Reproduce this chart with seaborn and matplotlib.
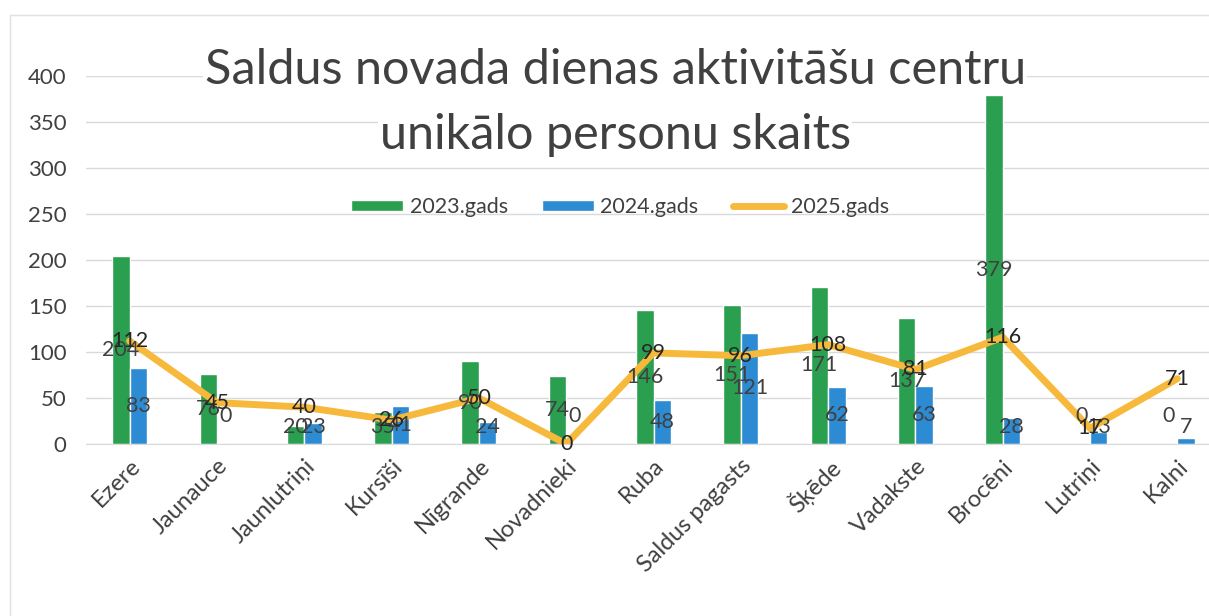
import numpy as np
import pandas as pd
import seaborn as sns
from matplotlib import pyplot as plt
from matplotlib.patches import Patch, Rectangle
from matplotlib.lines import Line2D

places = ["Ezere", "Jaunauce", "Jaunlutriņi", "Kursīši", "Nīgrande", "Novadnieki",
          "Ruba", "Saldus pagasts", "Šķēde", "Vadakste", "Brocēni", "Lutriņi", "Kalni"]
v2023 = [204, 76, 20, 35, 90, 74, 146, 151, 171, 137, 379, 0, 0]
v2024 = [83, 0, 23, 41, 24, 0, 48, 121, 62, 63, 28, 13, 7]
v2025 = [112, 45, 40, 26, 50, 0, 99, 96, 108, 81, 116, 17, 71]
years = ["2023.gads", "2024.gads", "2025.gads"]
y_ticks = [0, 50, 100, 150, 200, 250, 300, 350, 400]

GREEN = "#2b9f50"
BLUE = "#2c8bd3"
ORANGE = "#f6b93b"
TXT = "#404040"

sns.set_style("white")
plt.rcParams["font.family"] = ["Lato", "DejaVu Sans"]

bars = pd.DataFrame({
    "place": places * 2,
    "year": [years[0]] * len(places) + [years[1]] * len(places),
    "value": v2023 + v2024,
})

fig = plt.figure(figsize=(12.09, 6.16), dpi=100)
ax = fig.add_axes([86 / 1209, 172 / 616, 1135 / 1209, 368 / 616])

sns.barplot(data=bars, x="place", y="value", hue="year", order=places,
            hue_order=years[:2], palette=[GREEN, BLUE], saturation=1,
            width=0.4, dodge=True, legend=False, ax=ax, zorder=2)
sns.pointplot(x=places, y=v2025, order=places, color=ORANGE, markers="",
              errorbar=None, linewidth=5, solid_joinstyle="round",
              solid_capstyle="round", ax=ax, zorder=3)

# bar labels in the middle of the bar, zero and tiny bars lifted a bit
for cont in ax.containers:
    for bar in cont:
        h = bar.get_height()
        y = 30 if h == 0 else max(h / 2, 18)
        ax.text(bar.get_x() + bar.get_width() / 2, y, f"{h:.0f}",
                ha="center", va="center", fontsize=15.5, color=TXT, zorder=4)

# line labels on the points
xs, ys = ax.lines[-1].get_data()
for x, y in zip(xs, ys):
    ax.text(x, y, f"{y:.0f}", ha="center", va="center", fontsize=15.5,
            color="#262626", zorder=4)

ax.set_ylim(0, 400)
ax.set_xlim(-0.5, len(places) - 0.5)
ax.set_yticks(y_ticks)
ax.yaxis.grid(True, color="#d9d9d9", lw=1, zorder=0)
ax.set_axisbelow(True)
for s in ["top", "right", "left"]:
    ax.spines[s].set_visible(False)
ax.spines["bottom"].set_color("#d9d9d9")
ax.set_xlabel("")
ax.set_ylabel("")
ax.tick_params(axis="y", length=0, pad=14, labelsize=16, labelcolor=TXT)
ax.tick_params(axis="x", which="major", length=0, pad=8, labelsize=17,
               labelcolor=TXT, labelrotation=45)
ax.set_xticks(np.arange(len(places) + 1) - 0.5, minor=True)
ax.tick_params(axis="x", which="minor", length=5, color="#d9d9d9")
for lab in ax.get_xticklabels():
    lab.set_ha("right")
    lab.set_rotation_mode("anchor")

fig.text(0.509, 0.886, "Saldus novada dienas aktivitāšu centru", ha="center",
         va="center", fontsize=35, color=TXT,
         bbox=dict(facecolor="white", edgecolor="none", pad=1))
fig.text(0.509, 0.781, "unikālo personu skaits", ha="center", va="center",
         fontsize=35, color=TXT,
         bbox=dict(facecolor="white", edgecolor="none", pad=1))

handles = [Patch(facecolor=GREEN), Patch(facecolor=BLUE),
           Line2D([0], [0], color=ORANGE, lw=5)]
ax.legend(handles, years, loc="center", bbox_to_anchor=(0.513, 0.664),
          bbox_transform=fig.transFigure, ncol=3, frameon=False, fontsize=15.5,
          handlelength=2.4, handleheight=0.45, columnspacing=1.6,
          labelcolor=TXT, handletextpad=0.3)

fig.patches.append(Rectangle((10 / 1209, -0.02), 1.1, 0.996,
                             transform=fig.transFigure, fill=False,
                             edgecolor="#e0e0e0", lw=1))

fig.savefig("out.png", dpi=100)
